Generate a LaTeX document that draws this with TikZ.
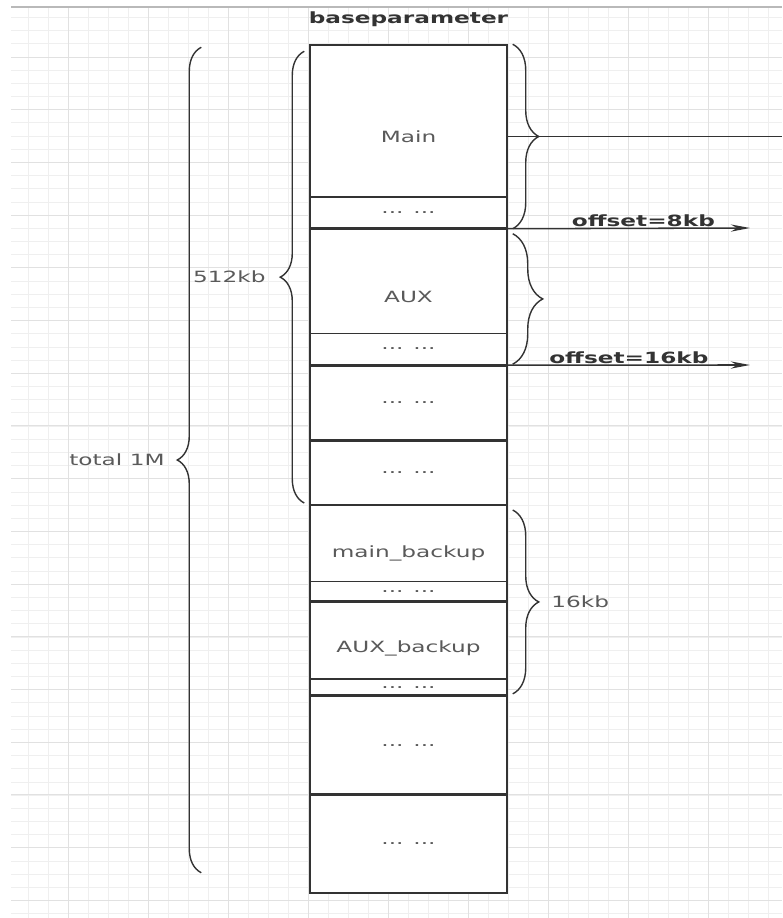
\documentclass[tikz,border=0pt]{standalone}
\usepackage{fontspec}
\setmainfont[FakeStretch=1.5]{DejaVu Sans}
\usetikzlibrary{positioning,calc,arrows.meta,decorations.pathreplacing}
\definecolor{linec}{HTML}{333333}
\definecolor{textc}{HTML}{5A5A5A}
\definecolor{gridc}{HTML}{EFEFEF}
\definecolor{gridd}{HTML}{E1E1E1}

\begin{document}
\begin{tikzpicture}[x=0.025cm, y=-0.025cm, font=\fontsize{11}{13}\selectfont]
\tikzstyle{block} = [rectangle, minimum width=4.925cm, inner sep=0pt, text centered, draw=linec, line width=1pt, fill=white, text=textc]
\tikzstyle{arrow} = [line width=1.1pt, draw=linec, -{Stealth[length=0.48cm,width=0.18cm]}]
\tikzstyle{bracer} = [decorate, decoration={brace, amplitude=0.65cm}, line width=1pt, draw=linec]
\tikzstyle{bigtext} = [font=\fontsize{11}{13}\selectfont\bfseries, text=linec, inner sep=0.5pt]
\tikzstyle{side} = [inner sep=0pt, text=textc]

\useasboundingbox (0,0) rectangle (782,918);

% background grid
\foreach \gx in {28,48,...,768} \draw[gridc, line width=0.6pt] (\gx,7) -- (\gx,918);
\foreach \k in {1,...,69} \draw[gridc, line width=0.6pt] (11,{4.3+13.18*\k}) -- (782,{4.3+13.18*\k});
\foreach \gx in {68,148,...,708} \draw[gridd, line width=0.7pt] (\gx,7) -- (\gx,918);
\foreach \k in {0,...,16} \draw[gridd, line width=0.7pt] (11,{57+52.71*\k}) -- (782,{57+52.71*\k});
\draw[gray!55, line width=0.9pt] (11,7) -- (782,7);

\node (mn) [block, minimum height=4.575cm] at (408.5,136.5) {Main};
\node (d1) [block, minimum height=0.775cm, anchor=south] at (mn.south) {... ...};
\node (aux) [block, minimum height=3.375cm, below=0pt of mn] {AUX};
\node (d2) [block, minimum height=0.775cm, anchor=south] at (aux.south) {... ...};
\node (d3) [block, minimum height=1.85cm, below=0pt of aux] {... ...};
\node (d4) [block, minimum height=1.575cm, below=0pt of d3] {... ...};
\node (mb) [block, minimum height=2.375cm, below=0pt of d4] {main\_backup};
\node (d5) [block, minimum height=0.475cm, anchor=south] at (mb.south) {... ...};
\node (ab) [block, minimum height=2.325cm, below=0pt of mb] {AUX\_backup};
\node (d6) [block, minimum height=0.4cm, anchor=south] at (ab.south) {... ...};
\node (d7) [block, minimum height=2.425cm, below=0pt of ab] {... ...};
\node (d8) [block, minimum height=2.45cm, below=0pt of d7] {... ...};

\node (title) [bigtext, above=0.425cm of mn] {baseparameter};

\draw[line width=1.6pt, draw=linec] (aux.north west) -- (aux.north east);

\coordinate (mout) at (782,136.5);
\coordinate (o8) at (750,228);
\coordinate (o16) at (750,365);

% right side
\draw[bracer] ($(mn.north east)+(5,0)$) -- ($(mn.south east)+(5,0)$);
\draw[line width=1pt, draw=linec] (mn.east) -- (mout);
\draw[arrow] (d1.south east) -- node[bigtext, above, pos=0.56] {offset=8kb} (o8);
\draw[bracer, decoration={amplitude=0.75cm}] ($(aux.north east)+(5,5)$) -- ($(aux.south east)+(5,-1)$);
\draw[arrow] (d2.south east) -- node[bigtext, above, pos=0.5] {offset=16kb} (o16);
\draw[bracer] ($(mb.north east)+(5,5)$) -- node[side, right=0.95cm] {16kb} ($(ab.south east)+(5,-2)$);

% left side
\draw[bracer, decoration={amplitude=0.6cm}] ($(d4.south west)+(-5,-2)$) -- node[side, left=0.95cm] {512kb} ($(mn.north west)+(-5,7)$);
\draw[bracer, decoration={amplitude=0.6cm}] ($(d8.south west)+(-108,-21)$) -- node[side, left=0.9cm] {total 1M} ($(mn.north west)+(-108,3)$);
\end{tikzpicture}
\end{document}
